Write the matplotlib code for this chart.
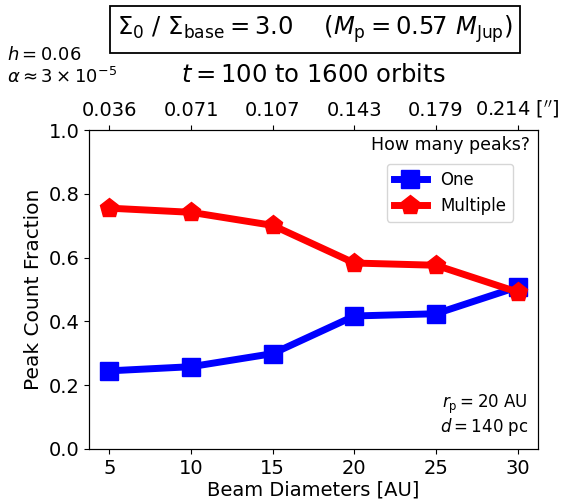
import matplotlib.pyplot as plt
import numpy as np

# Beam diameters [AU] and the fraction of snapshots with one / multiple peaks
beams = [5, 10, 15, 20, 25, 30]
arcsec_labels = ['0.036', '0.071', '0.107', '0.143', '0.179', "0.214 [$''$]"]
frac_one = [0.245, 0.258, 0.299, 0.417, 0.424, 0.508]
frac_multiple = [0.755, 0.742, 0.701, 0.583, 0.576, 0.492]

fig = plt.figure(figsize=(5.79, 5.01), dpi=100)
ax = fig.add_axes([0.1537, 0.1038, 0.7755, 0.6367])

ax.plot(beams, frac_one, color='blue', linewidth=5, marker='s', markersize=13, label='One')
ax.plot(beams, frac_multiple, color='red', linewidth=5, marker='p', markersize=14, label='Multiple')

ax.set_xlim(3.75, 31.25)
ax.set_ylim(0, 1)
ax.set_xticks(beams)
ax.tick_params(labelsize=14)
ax.set_xlabel('Beam Diameters [AU]', fontsize=14, labelpad=2)
ax.set_ylabel('Peak Count Fraction', fontsize=14.5)

# angular size of the beam on the top axis
top = ax.twiny()
top.set_xlim(ax.get_xlim())
top.set_xticks(beams)
top.set_xticklabels(arcsec_labels)
top.tick_params(labelsize=14)

ax.text(0.982, 0.953, 'How many peaks?', transform=ax.transAxes, ha='right', va='center', fontsize=12.5)
ax.legend(loc='upper right', bbox_to_anchor=(0.944, 0.893), borderaxespad=0,
          fontsize=12, handlelength=2.0)

ax.text(0.978, 0.036, '$r_\\mathrm{p} = 20$ AU\n$d = 140$ pc', transform=ax.transAxes,
        ha='right', va='bottom', fontsize=12, linespacing=0.95)

fig.text(0.544, 0.941, r'$\Sigma_0$ / $\Sigma_\mathrm{base} = 3.0$    ($M_\mathrm{p} = 0.57$ $M_\mathrm{Jup}$)',
         ha='center', va='center', fontsize=17.5,
         bbox=dict(boxstyle='square,pad=0.3', facecolor='white', edgecolor='black', linewidth=1.3))
fig.text(0.541, 0.850, r'$t = 100$ to $1600$ orbits', ha='center', va='center', fontsize=17.5)
fig.text(0.012, 0.880, r'$h = 0.06$', ha='left', va='baseline', fontsize=13)
fig.text(0.012, 0.834, r'$\alpha \approx 3 \times 10^{-5}$', ha='left', va='baseline', fontsize=13)

fig.savefig('out.png', dpi=100)
